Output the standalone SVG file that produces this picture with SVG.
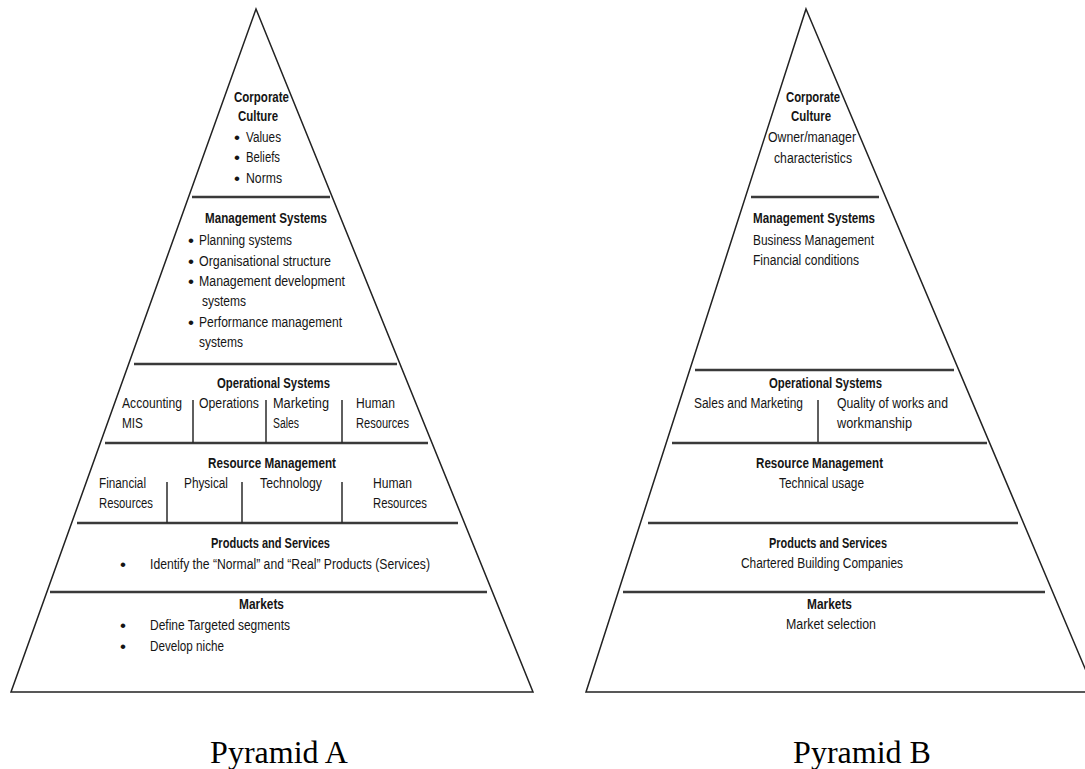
<svg xmlns="http://www.w3.org/2000/svg" width="1085" height="769" viewBox="0 0 1085 769">
  <style>
    .edge { fill: none; stroke: #222; stroke-width: 1.5; stroke-linejoin: miter; }
    .rule { stroke: #3a3a3a; stroke-width: 2.4; }
    .sep { stroke: #2a2a2a; stroke-width: 1.5; }
    text { font-family: "Liberation Sans Narrow", "Liberation Sans", Arial, sans-serif; font-size: 15.5px; fill: #151515; }
    .h { font-weight: bold; }
    .dot { font-size: 17px; }
    .cap { font-family: "Liberation Serif", "Times New Roman", serif; font-size: 32px; fill: #000; }
  </style>
  <rect width="1085" height="769" fill="#fff"/>

  <!-- Pyramid A frame and layer boundaries -->
  <g id="pyramid-a-frame">
    <polygon class="edge" points="256,9 533,692 11,692"/>
    <line class="rule" x1="192" y1="197" x2="330" y2="197"/>
    <line class="rule" x1="134" y1="364" x2="397" y2="364"/>
    <line class="rule" x1="105" y1="443" x2="428" y2="443"/>
    <line class="rule" x1="77" y1="523" x2="458" y2="523"/>
    <line class="rule" x1="50" y1="592" x2="487" y2="592"/>
  </g>

  <!-- Column separators -->
  <g id="separators">
    <line class="sep" x1="193" y1="400" x2="193" y2="443"/>
    <line class="sep" x1="266" y1="400" x2="266" y2="443"/>
    <line class="sep" x1="342" y1="400" x2="342" y2="443"/>
    <line class="sep" x1="167" y1="482" x2="167" y2="523"/>
    <line class="sep" x1="242" y1="482" x2="242" y2="523"/>
    <line class="sep" x1="342" y1="482" x2="342" y2="523"/>
    <line class="sep" x1="818" y1="400" x2="818" y2="443"/>
  </g>

  <!-- Pyramid A layers -->
  <g id="a-culture">
    <text class="h" x="234" y="102" textLength="55" lengthAdjust="spacingAndGlyphs">Corporate</text>
    <text class="h" x="238" y="121" textLength="40" lengthAdjust="spacingAndGlyphs">Culture</text>
    <text class="dot" x="237" y="143" text-anchor="middle">•</text>
    <text x="246" y="142" textLength="35" lengthAdjust="spacingAndGlyphs">Values</text>
    <text class="dot" x="237" y="163" text-anchor="middle">•</text>
    <text x="246" y="162" textLength="34" lengthAdjust="spacingAndGlyphs">Beliefs</text>
    <text class="dot" x="237" y="184" text-anchor="middle">•</text>
    <text x="246" y="183" textLength="36" lengthAdjust="spacingAndGlyphs">Norms</text>
  </g>

  <g id="a-management">
    <text class="h" x="205" y="223" textLength="122" lengthAdjust="spacingAndGlyphs">Management Systems</text>
    <text class="dot" x="191" y="246" text-anchor="middle">•</text>
    <text x="199" y="245" textLength="93" lengthAdjust="spacingAndGlyphs">Planning systems</text>
    <text class="dot" x="191" y="267" text-anchor="middle">•</text>
    <text x="199" y="266" textLength="132" lengthAdjust="spacingAndGlyphs">Organisational structure</text>
    <text class="dot" x="191" y="287" text-anchor="middle">•</text>
    <text x="199" y="286" textLength="146" lengthAdjust="spacingAndGlyphs">Management development</text>
    <text x="202" y="306" textLength="44" lengthAdjust="spacingAndGlyphs">systems</text>
    <text class="dot" x="191" y="328" text-anchor="middle">•</text>
    <text x="199" y="327" textLength="143" lengthAdjust="spacingAndGlyphs">Performance management</text>
    <text x="199" y="347" textLength="44" lengthAdjust="spacingAndGlyphs">systems</text>
  </g>

  <g id="a-operational">
    <text class="h" x="217" y="388" textLength="113" lengthAdjust="spacingAndGlyphs">Operational Systems</text>
    <text x="122" y="408" textLength="60" lengthAdjust="spacingAndGlyphs">Accounting</text>
    <text x="122" y="428" textLength="21" lengthAdjust="spacingAndGlyphs">MIS</text>
    <text x="199" y="408" textLength="60" lengthAdjust="spacingAndGlyphs">Operations</text>
    <text x="273" y="408" textLength="56" lengthAdjust="spacingAndGlyphs">Marketing</text>
    <text x="273" y="428" textLength="26" lengthAdjust="spacingAndGlyphs">Sales</text>
    <text x="356" y="408" textLength="39" lengthAdjust="spacingAndGlyphs">Human</text>
    <text x="356" y="428" textLength="53" lengthAdjust="spacingAndGlyphs">Resources</text>
  </g>

  <g id="a-resource">
    <text class="h" x="208" y="468" textLength="128" lengthAdjust="spacingAndGlyphs">Resource Management</text>
    <text x="99" y="488" textLength="47" lengthAdjust="spacingAndGlyphs">Financial</text>
    <text x="99" y="508" textLength="54" lengthAdjust="spacingAndGlyphs">Resources</text>
    <text x="184" y="488" textLength="44" lengthAdjust="spacingAndGlyphs">Physical</text>
    <text x="260" y="488" textLength="62" lengthAdjust="spacingAndGlyphs">Technology</text>
    <text x="373" y="488" textLength="39" lengthAdjust="spacingAndGlyphs">Human</text>
    <text x="373" y="508" textLength="54" lengthAdjust="spacingAndGlyphs">Resources</text>
  </g>

  <g id="a-products">
    <text class="h" x="211" y="548" textLength="119" lengthAdjust="spacingAndGlyphs">Products and Services</text>
    <text class="dot" x="123" y="570" text-anchor="middle">•</text>
    <text x="150" y="569" textLength="280" lengthAdjust="spacingAndGlyphs">Identify the “Normal” and “Real” Products (Services)</text>
  </g>

  <g id="a-markets">
    <text class="h" x="239" y="609" textLength="45" lengthAdjust="spacingAndGlyphs">Markets</text>
    <text class="dot" x="123" y="631" text-anchor="middle">•</text>
    <text x="150" y="630" textLength="140" lengthAdjust="spacingAndGlyphs">Define Targeted segments</text>
    <text class="dot" x="123" y="652" text-anchor="middle">•</text>
    <text x="150" y="651" textLength="74" lengthAdjust="spacingAndGlyphs">Develop niche</text>
  </g>

  <!-- Pyramid B frame and layer boundaries -->
  <g id="pyramid-b-frame">
    <polygon class="edge" points="806,9 1095,692 586,692"/>
    <line class="rule" x1="751" y1="197" x2="879" y2="197"/>
    <line class="rule" x1="695" y1="370" x2="954" y2="370"/>
    <line class="rule" x1="672" y1="443" x2="987" y2="443"/>
    <line class="rule" x1="648" y1="523" x2="1018" y2="523"/>
    <line class="rule" x1="623" y1="592" x2="1045" y2="592"/>
  </g>

  <!-- Pyramid B layers -->
  <g id="b-culture">
    <text class="h" x="786" y="102" textLength="54" lengthAdjust="spacingAndGlyphs">Corporate</text>
    <text class="h" x="791" y="121" textLength="40" lengthAdjust="spacingAndGlyphs">Culture</text>
    <text x="768" y="142" textLength="88" lengthAdjust="spacingAndGlyphs">Owner/manager</text>
    <text x="774" y="163" textLength="78" lengthAdjust="spacingAndGlyphs">characteristics</text>
  </g>

  <g id="b-management">
    <text class="h" x="753" y="223" textLength="122" lengthAdjust="spacingAndGlyphs">Management Systems</text>
    <text x="753" y="245" textLength="121" lengthAdjust="spacingAndGlyphs">Business Management</text>
    <text x="753" y="265" textLength="106" lengthAdjust="spacingAndGlyphs">Financial conditions</text>
  </g>

  <g id="b-operational">
    <text class="h" x="769" y="388" textLength="113" lengthAdjust="spacingAndGlyphs">Operational Systems</text>
    <text x="694" y="408" textLength="109" lengthAdjust="spacingAndGlyphs">Sales and Marketing</text>
    <text x="837" y="408" textLength="111" lengthAdjust="spacingAndGlyphs">Quality of works and</text>
    <text x="837" y="428" textLength="75" lengthAdjust="spacingAndGlyphs">workmanship</text>
  </g>

  <g id="b-resource">
    <text class="h" x="756" y="468" textLength="127" lengthAdjust="spacingAndGlyphs">Resource Management</text>
    <text x="779" y="488" textLength="85" lengthAdjust="spacingAndGlyphs">Technical usage</text>
  </g>

  <g id="b-products">
    <text class="h" x="769" y="548" textLength="118" lengthAdjust="spacingAndGlyphs">Products and Services</text>
    <text x="741" y="568" textLength="162" lengthAdjust="spacingAndGlyphs">Chartered Building Companies</text>
  </g>

  <g id="b-markets">
    <text class="h" x="807" y="609" textLength="45" lengthAdjust="spacingAndGlyphs">Markets</text>
    <text x="786" y="629" textLength="90" lengthAdjust="spacingAndGlyphs">Market selection</text>
  </g>

  <!-- Captions -->
  <g id="captions">
    <text class="cap" x="279" y="763" text-anchor="middle">Pyramid A</text>
    <text class="cap" x="862" y="763" text-anchor="middle">Pyramid B</text>
  </g>
</svg>
